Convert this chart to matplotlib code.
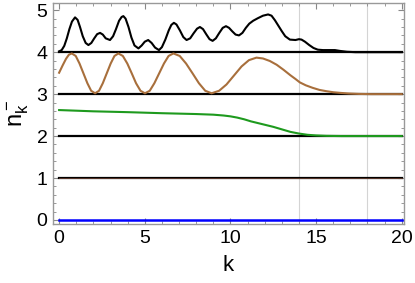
import matplotlib
matplotlib.use("Agg")
import matplotlib.pyplot as plt
from matplotlib.ticker import MultipleLocator

plt.rcParams['font.family'] = ['Liberation Sans', 'DejaVu Sans']
plt.rcParams['mathtext.fontset'] = 'custom'
plt.rcParams['mathtext.rm'] = 'Liberation Sans'
plt.rcParams['mathtext.it'] = 'Liberation Sans'

# top curve (above level 4)
k_top = [0.0, 0.15, 0.3, 0.45, 0.6, 0.75, 0.93, 1.08, 1.22, 1.38, 1.55, 1.71, 1.88, 2.05,
         2.22, 2.39, 2.55, 2.72, 2.97, 3.15, 3.32, 3.5, 3.65, 3.75, 3.88, 4.05, 4.22, 4.4,
         4.63, 4.82, 5.0, 5.2, 5.4, 5.6, 5.83, 6.0, 6.2, 6.4, 6.55, 6.7, 6.85, 7.05, 7.25,
         7.44, 7.65, 7.85, 8.05, 8.22, 8.4, 8.6, 8.78, 8.96, 9.15, 9.35, 9.55, 9.74, 9.92,
         10.1, 10.3, 10.5, 10.7, 10.9, 11.1, 11.33, 11.6, 11.9, 12.2, 12.4, 12.6, 12.8,
         13.0, 13.2, 13.47, 13.8, 14.0, 14.15, 14.35, 14.6, 14.85, 15.1, 15.4, 15.8, 16.1,
         16.4, 16.8, 17.3, 20.0]
n_top = [4.02, 4.05, 4.15, 4.33, 4.55, 4.73, 4.83, 4.77, 4.60, 4.38, 4.22, 4.17, 4.22, 4.33,
         4.43, 4.46, 4.42, 4.33, 4.29, 4.38, 4.55, 4.75, 4.84, 4.86, 4.80, 4.60, 4.35, 4.16,
         4.09, 4.16, 4.25, 4.29, 4.22, 4.11, 4.05, 4.12, 4.30, 4.52, 4.65, 4.70, 4.66, 4.52, 4.36,
         4.29, 4.33, 4.45, 4.56, 4.60, 4.55, 4.42, 4.31, 4.27, 4.33, 4.46, 4.58, 4.62, 4.58,
         4.50, 4.42, 4.40, 4.46, 4.58, 4.68, 4.75, 4.81, 4.87, 4.90, 4.87, 4.76, 4.63,
         4.50, 4.38, 4.30, 4.29, 4.31, 4.30, 4.25, 4.17, 4.10, 4.06, 4.05, 4.05, 4.05,
         4.03, 4.01, 4.00, 4.00]

# brown curve (between 3 and 4)
k_brown = [0.0, 0.2, 0.4, 0.57, 0.74, 0.97, 1.19, 1.42, 1.65, 1.87, 2.1, 2.33, 2.55, 2.78,
           3.01, 3.23, 3.46, 3.72, 3.98, 4.24, 4.49, 4.75, 5.01, 5.29, 5.56, 5.84, 6.12,
           6.39, 6.67, 7.04, 7.41, 7.79, 8.16, 8.53, 8.9, 9.34, 9.77, 10.21, 10.65, 11.08,
           11.52, 11.9, 12.3, 12.7, 13.1, 13.5, 13.8, 14.05, 14.4, 14.8, 15.2, 15.6, 16.0,
           16.4, 16.9, 17.5, 18.2, 20.0]
n_brown = [3.51, 3.68, 3.84, 3.94, 3.97, 3.91, 3.73, 3.495, 3.26, 3.08, 3.02, 3.08, 3.26, 3.495,
           3.73, 3.91, 3.97, 3.91, 3.73, 3.495, 3.26, 3.08, 3.02, 3.08, 3.26, 3.495, 3.73,
           3.91, 3.97, 3.91, 3.73, 3.495, 3.26, 3.08, 3.02, 3.08, 3.23, 3.445, 3.66, 3.81,
           3.87, 3.85, 3.79, 3.70, 3.58, 3.45, 3.36, 3.28, 3.21, 3.15, 3.10, 3.07, 3.045,
           3.03, 3.015, 3.005, 3.00, 3.00]

# green curve (between 2 and 3)
k_green = [0.0, 2.0, 4.0, 6.0, 8.0, 9.0, 9.6, 10.0, 10.4, 10.8, 11.2, 11.6, 12.0, 12.5,
           13.0, 13.5, 14.0, 14.5, 15.0, 15.6, 16.5, 20.0]
n_green = [2.62, 2.59, 2.57, 2.545, 2.525, 2.51, 2.49, 2.47, 2.44, 2.40, 2.35, 2.31, 2.27, 2.22,
           2.16, 2.10, 2.06, 2.03, 2.015, 2.005, 2.00, 2.00]

levels = [1, 2, 3, 4]
k_span = [0, 20]
grid_k = [14, 18]

fig = plt.figure(figsize=(4.15, 2.83), dpi=100)
ax = fig.add_axes([0.128, 0.208, 0.845, 0.781])

for g in grid_k:
    ax.axvline(g, color='#d4d4d4', lw=0.8, zorder=0)

for lv in levels:
    ax.plot(k_span, [lv, lv], color='black', lw=1.6, zorder=2)
ax.plot(k_span, [1, 1], color='#7a4a38', lw=0.5, zorder=3)
ax.plot(k_span, [0, 0], color='#0000ff', lw=1.8, zorder=3)

ax.plot(k_top, n_top, color='black', lw=1.5, zorder=3)
ax.plot(k_brown, n_brown, color='#a86f3c', lw=1.5, zorder=3)
ax.plot(k_green, n_green, color='#1e9a1e', lw=1.5, zorder=3)

ax.set_xlim(-0.35, 20.12)
ax.set_ylim(-0.1, 5.17)
ax.xaxis.set_major_locator(MultipleLocator(5))
ax.xaxis.set_minor_locator(MultipleLocator(1))
ax.yaxis.set_major_locator(MultipleLocator(1))
ax.yaxis.set_minor_locator(MultipleLocator(0.2))
ax.tick_params(which='both', direction='in', top=True, right=True,
               color='#888888', labelsize=14, pad=4)
ax.tick_params(which='major', length=4, width=0.8)
ax.tick_params(which='minor', length=2, width=0.6)
for s in ax.spines.values():
    s.set_color('#999999')
    s.set_linewidth(1.0)

ax.set_xlabel('k', fontsize=16, labelpad=6)
ax.set_ylabel(r'$\mathregular{n_k^-}$', fontsize=17, labelpad=4)

fig.savefig('out.png', dpi=100)
